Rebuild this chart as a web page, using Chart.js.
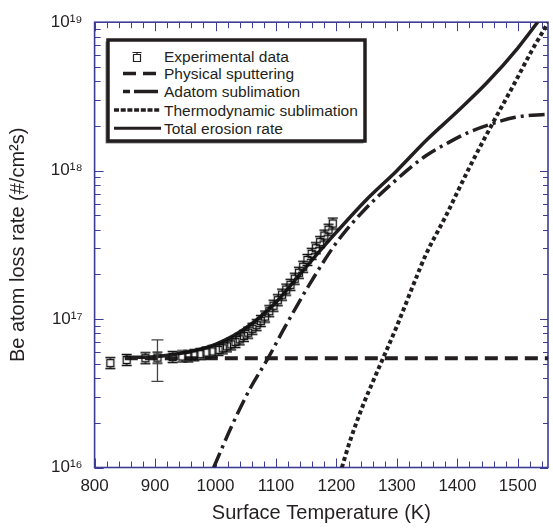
<!DOCTYPE html>
<html>
<head>
<meta charset="utf-8">
<script src="https://cdn.jsdelivr.net/npm/chart.js@4.4.1/dist/chart.umd.min.js"></script>
<style>
  html, body { margin: 0; padding: 0; background: #fff; }
  #wrap { position: relative; width: 553px; height: 528px; overflow: hidden; }
  #legend { position: absolute; left: 0; top: 0; pointer-events: none; }
  #legend text { font-family: 'Liberation Sans', Arial, Helvetica, sans-serif; font-size: 15.5px; fill: #231f20; }
</style>
</head>
<body>
<div id="wrap">
  <canvas id="chart" width="553" height="528"></canvas>
  <svg id="legend" width="553" height="528">
    <rect x="105.5" y="41.5" width="258" height="102" fill="#888"/>
    <rect x="108" y="40" width="257" height="101" fill="#fff" stroke="#231f20" stroke-width="3.5"/>
    <g stroke="#231f20" fill="none">
      <path d="M133.5 54.5h7v7h-7z M132.5 52.5h9 M137 52.5v2" stroke-width="1.2"/>
      <line x1="123" y1="73.5" x2="158" y2="73.5" stroke-width="3.5" stroke-dasharray="13 7"/>
      <line x1="123" y1="91.5" x2="158.5" y2="91.5" stroke-width="3.5" stroke-dasharray="7 4 24 60"/>
      <line x1="114" y1="110" x2="160.5" y2="110" stroke-width="3.5" stroke-dasharray="5 1.7"/>
      <line x1="114" y1="128.3" x2="161" y2="128.3" stroke-width="3"/>
    </g>
    <text x="164" y="62.3">Experimental data</text>
    <text x="164" y="79">Physical sputtering</text>
    <text x="164" y="97.3">Adatom sublimation</text>
    <text x="164" y="115.6">Thermodynamic sublimation</text>
    <text x="164" y="134">Total erosion rate</text>
  </svg>
</div>
<script>
// experimental data (surface temperature K, loss rate #/cm2s)
const expT = [826, 853, 884, 904, 929, 945, 955, 965, 975, 985, 995, 1005, 1012, 1019, 1026, 1033, 1040, 1047, 1054, 1061,
  1068, 1075, 1082, 1089, 1096, 1103, 1110, 1117, 1124, 1131, 1138, 1145, 1152, 1159, 1166, 1173, 1180, 1187, 1194];
const expRate = [5.05e16, 5.3e16, 5.45e16, 5.5e16, 5.55e16, 5.6e16, 5.6e16, 5.7e16, 5.8e16, 5.95e16, 6.05e16, 6.2e16, 6.35e16, 6.55e16,
  6.75e16, 7.0e16, 7.3e16, 7.7e16, 8.1e16, 8.6e16, 9.1e16, 9.7e16, 1.04e17, 1.13e17, 1.23e17, 1.34e17, 1.46e17, 1.58e17, 1.7e17,
  1.87e17, 2.05e17, 2.25e17, 2.5e17, 2.75e17, 3.0e17, 3.3e17, 3.65e17, 4.0e17, 4.4e17];

// the one large error bar
const errT = [904];
const errLow = [3.8e16];
const errHigh = [7.25e16];

const physT = [850, 1550];
const physRate = [5.45e16, 5.45e16];

const adT = [997, 1027, 1057, 1086, 1114, 1155, 1201, 1245, 1294, 1348, 1386, 1420, 1453, 1496, 1550];
const adRate = [1.0e16, 1.91e16, 3.39e16, 5.37e16, 8.71e16, 1.70e17, 3.31e17, 5.37e17, 8.32e17, 1.26e18, 1.55e18,
  1.82e18, 2.04e18, 2.29e18, 2.40e18];

const thT = [1209, 1223, 1245, 1261, 1300, 1332, 1348, 1380, 1420, 1458, 1491, 1523, 1550];
const thRate = [1.0e16, 1.53e16, 2.69e16, 3.84e16, 8.97e16, 1.90e17, 2.72e17, 4.86e17, 1.05e18, 2.07e18, 3.64e18,
  6.41e18, 9.9e18];

const totT = [850, 900, 950, 1000, 1050, 1100, 1150, 1200, 1250, 1300, 1350, 1400, 1450, 1500, 1550];
const totRate = [5.52e16, 5.58e16, 5.95e16, 6.75e16, 8.7e16, 1.3e17, 2.25e17, 3.85e17, 6.4e17, 1.0e18, 1.62e18,
  2.5e18, 3.95e18, 6.7e18, 1.24e19];

// axis ticks
const xTicks = [800, 820, 840, 860, 880, 900, 920, 940, 960, 980, 1000, 1020, 1040, 1060, 1080, 1100, 1120, 1140, 1160, 1180,
  1200, 1220, 1240, 1260, 1280, 1300, 1320, 1340, 1360, 1380, 1400, 1420, 1440, 1460, 1480, 1500, 1520, 1540];
const yDecades = [1e16, 1e17, 1e18, 1e19];
const yDecadeLabels = ['10¹⁶', '10¹⁷', '10¹⁸', '10¹⁹'];
const yMinor = [2, 3, 4, 5, 6, 7, 8, 9];

const ink = '#231f20';
const axisColor = '#3d3d96';
const fontFamily = "'Liberation Sans', Arial, Helvetica, sans-serif";

const yTicks = [];
yDecades.forEach((d, i) => {
    yTicks.push(d);
    if (i < yDecades.length - 1) yMinor.forEach(m => yTicks.push(m * d));
});

const pts = (xs, ys) => xs.map((x, i) => ({ x: x, y: ys[i] }));

// open square marker with small error bar caps
function makeMarker() {
    const c = document.createElement('canvas');
    c.width = 12; c.height = 14;
    const g = c.getContext('2d');
    g.strokeStyle = '#111';
    g.lineWidth = 1.3;
    g.strokeRect(2.5, 3.5, 7, 7);
    g.beginPath();
    g.moveTo(1, 1.5); g.lineTo(11, 1.5);
    g.moveTo(6, 1.5); g.lineTo(6, 3.5);
    g.moveTo(6, 10.5); g.lineTo(6, 12.5);
    g.moveTo(1, 12.5); g.lineTo(11, 12.5);
    g.stroke();
    return c;
}

const framePlugin = {
    id: 'frame',
    beforeDatasetsDraw(chart) {
        const { ctx, chartArea: a, scales: { x, y } } = chart;
        ctx.save();
        ctx.strokeStyle = axisColor;
        ctx.lineWidth = 1;
        ctx.beginPath();
        xTicks.forEach(v => {
            const px = Math.round(x.getPixelForValue(v)) + 0.5;
            const len = v % 100 === 0 ? 9 : 6;
            ctx.moveTo(px, a.bottom); ctx.lineTo(px, a.bottom - len);
            ctx.moveTo(px, a.top); ctx.lineTo(px, a.top + len);
        });
        yTicks.forEach(v => {
            const py = Math.round(y.getPixelForValue(v)) + 0.5;
            const major = yDecades.includes(v);
            ctx.moveTo(a.left, py); ctx.lineTo(a.left + (major ? 9 : 6), py);
            ctx.moveTo(a.right, py); ctx.lineTo(a.right - (major ? 8 : 5), py);
        });
        ctx.stroke();
        ctx.lineWidth = 1.6;
        ctx.strokeRect(a.left, a.top, a.right - a.left, a.bottom - a.top);
        ctx.restore();
    },
    afterDatasetsDraw(chart) {
        const { ctx, scales: { x, y } } = chart;
        ctx.save();
        ctx.strokeStyle = '#444';
        ctx.lineWidth = 1.3;
        errT.forEach((t, i) => {
            const px = x.getPixelForValue(t);
            const lo = y.getPixelForValue(errLow[i]);
            const hi = y.getPixelForValue(errHigh[i]);
            ctx.beginPath();
            ctx.moveTo(px, lo); ctx.lineTo(px, hi);
            ctx.moveTo(px - 6, lo); ctx.lineTo(px + 6, lo);
            ctx.moveTo(px - 6, hi); ctx.lineTo(px + 6, hi);
            ctx.stroke();
        });
        ctx.restore();
    }
};

const lineSet = (label, xs, ys, width, dash) => ({
    label: label,
    data: pts(xs, ys),
    showLine: true,
    borderColor: ink,
    borderWidth: width,
    borderDash: dash,
    borderCapStyle: 'butt',
    pointRadius: 0,
    cubicInterpolationMode: 'monotone',
    fill: false
});

new Chart(document.getElementById('chart'), {
    type: 'scatter',
    data: {
        datasets: [
            {
                label: 'Experimental data',
                data: pts(expT, expRate),
                pointStyle: makeMarker(),
                showLine: false
            },
            lineSet('Total erosion rate', totT, totRate, 3.5, []),
            lineSet('Physical sputtering', physT, physRate, 4, [13, 7]),
            lineSet('Adatom sublimation', adT, adRate, 3.5, [16, 5, 3, 5]),
            lineSet('Thermodynamic sublimation', thT, thRate, 4, [4, 3])
        ]
    },
    options: {
        responsive: false,
        animation: false,
        layout: { padding: { top: 19.5, right: 0, left: 0, bottom: 0 } },
        plugins: { legend: { display: false }, tooltip: { enabled: false } },
        scales: {
            x: {
                type: 'linear',
                min: 800,
                max: 1550,
                afterBuildTicks: s => { s.ticks = xTicks.map(v => ({ value: v })); },
                afterFit: s => { s.height = 60.5; },
                grid: { display: false, drawTicks: false },
                border: { display: false },
                ticks: {
                    autoSkip: false,
                    maxRotation: 0,
                    padding: 9,
                    color: ink,
                    font: { family: fontFamily, size: 17 },
                    callback: v => (v % 100 === 0 ? String(v) : '')
                },
                title: {
                    display: true,
                    text: 'Surface Temperature (K)',
                    color: ink,
                    font: { family: fontFamily, size: 20 },
                    padding: { top: 0, bottom: 3 }
                }
            },
            y: {
                type: 'logarithmic',
                min: 1e16,
                max: 1e19,
                afterBuildTicks: s => { s.ticks = yTicks.map(v => ({ value: v })); },
                afterFit: s => { s.width = 94.6; },
                grid: { display: false, drawTicks: false },
                border: { display: false },
                ticks: {
                    autoSkip: false,
                    padding: 12,
                    color: ink,
                    font: { family: fontFamily, size: 17 },
                    callback: v => {
                        const i = yDecades.indexOf(v);
                        return i >= 0 ? yDecadeLabels[i] : '';
                    }
                },
                title: {
                    display: true,
                    text: 'Be atom loss rate (#/cm²s)',
                    color: ink,
                    font: { family: fontFamily, size: 20 },
                    padding: { top: 6, bottom: 0 }
                }
            }
        }
    },
    plugins: [framePlugin]
});
</script>
</body>
</html>
